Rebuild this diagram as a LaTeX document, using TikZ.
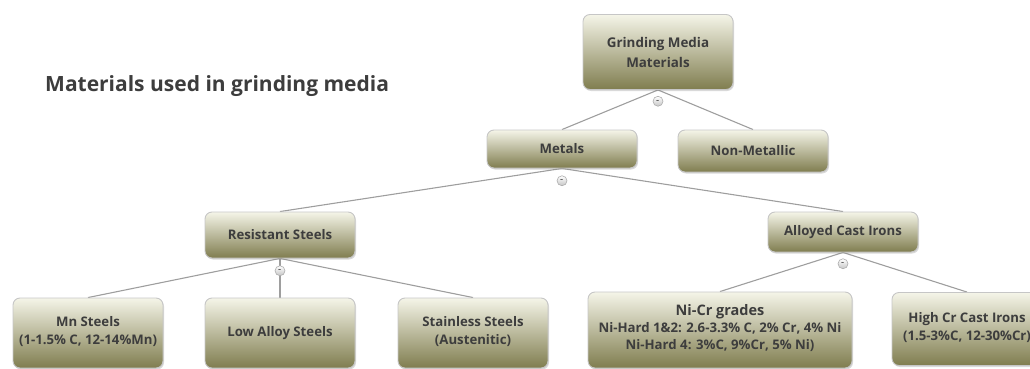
\documentclass[tikz,border=0pt]{standalone}
\usepackage{fontspec}
\setsansfont{Open Sans}
\usepackage{xcolor}
\usepackage{tikz}
\usetikzlibrary{positioning, shadows, backgrounds}
\definecolor{textgray}{gray}{0.24}
\definecolor{linkgray}{gray}{0.62}
\definecolor{olivetop}{rgb}{0.96, 0.96, 0.91}
\definecolor{olivemid}{rgb}{0.80, 0.79, 0.64}
\definecolor{olivebot}{rgb}{0.50, 0.49, 0.31}

\begin{document}
\begin{tikzpicture}[
    x=1pt, y=-1pt,
    every node/.style={font=\fontsize{13.2}{18}\selectfont\sffamily\bfseries, text=textgray, align=center},
    topic/.style ={rounded corners=7pt, draw=gray!45, line width=0.9pt,
                   top color=olivetop, middle color=olivemid, bottom color=olivebot,
                   drop shadow={shadow xshift=1pt, shadow yshift=-1.5pt, opacity=0.3},
                   minimum width=150pt, inner sep=2pt},
    toggle/.style={circle, draw=gray!65, line width=0.6pt, top color=white, bottom color=gray!45,
                   minimum size=10pt, inner sep=0pt, font=\fontsize{7}{7}\selectfont\bfseries},
    link/.style  ={draw=linkgray, line width=1.1pt}
]
\useasboundingbox (0,0) rectangle (1030,369);

% ========== Title ==========
\node[font=\fontsize{21}{24}\selectfont\sffamily\bfseries, anchor=west, inner sep=0pt] (title) at (45,86)
    {Materials used in grinding media};

% ========== ROW 0: Root ==========
\node[topic, minimum height=75pt, font=\fontsize{13.4}{20}\selectfont\sffamily\bfseries] (root) at (658,52)
    {Grinding Media\\Materials};

% ========== ROW 1: Metals / Non-Metallic ==========
\node[topic, minimum height=38pt] (metals) at (562,149) {Metals};
\node[topic, minimum height=42pt] (nonmet) at (753,151) {Non-Metallic};

% ========== ROW 2: Steels / Cast Irons ==========
\node[topic, minimum height=46pt] (resist)  at (280,235) {Resistant Steels};
\node[topic, minimum height=40pt] (alloyed) at (843,232) {Alloyed Cast Irons};

% ========== ROW 3: Grades ==========
\node[topic, minimum height=70pt, text depth=6pt] (mnsteel)   at (88,333)  {Mn Steels\\(1-1.5\% C, 12-14\%Mn)};
\node[topic, minimum height=70pt] (lowalloy)  at (280,333) {Low Alloy Steels};
\node[topic, minimum height=70pt, text depth=6pt] (stainless) at (473,333) {Stainless Steels\\(Austenitic)};
\node[topic, minimum height=76pt, minimum width=264pt, text depth=6pt, font=\fontsize{13.2}{17}\selectfont\sffamily\bfseries] (nicr) at (720,330)
    {{\fontsize{14.5}{17}\selectfont Ni-Cr grades}\\Ni-Hard 1\&2: 2.6-3.3\% C, 2\% Cr, 4\% Ni\\Ni-Hard 4: 3\%C, 9\%Cr, 5\% Ni)};
\node[topic, minimum height=73pt, text depth=6pt] (highcr) at (967,329) {High Cr Cast Irons\\(1.5-3\%C, 12-30\%Cr)};

% ========== LINKS ==========
\begin{scope}[on background layer]
\draw[link] (root.south) -- (metals.north);
\draw[link] (root.south) -- (nonmet.north);

\draw[link] (metals.south) -- (resist.north);
\draw[link] (metals.south) -- (alloyed.north);

\draw[link] (resist.south) -- (mnsteel.north);
\draw[link] (resist.south) -- (lowalloy.north);
\draw[link] (resist.south) -- (stainless.north);

\draw[link] (alloyed.south) -- (nicr.north);
\draw[link] (alloyed.south) -- (highcr.north);
\end{scope}

% ========== Collapse buttons ==========
\node[toggle, below=6pt of root.south]    (rootTog)    {-};
\node[toggle, below=7pt of metals.south]  (metalsTog)  {-};
\node[toggle, below=7pt of resist.south]  (resistTog)  {-};
\node[toggle, below=6pt of alloyed.south] (alloyedTog) {-};

\end{tikzpicture}
\end{document}
